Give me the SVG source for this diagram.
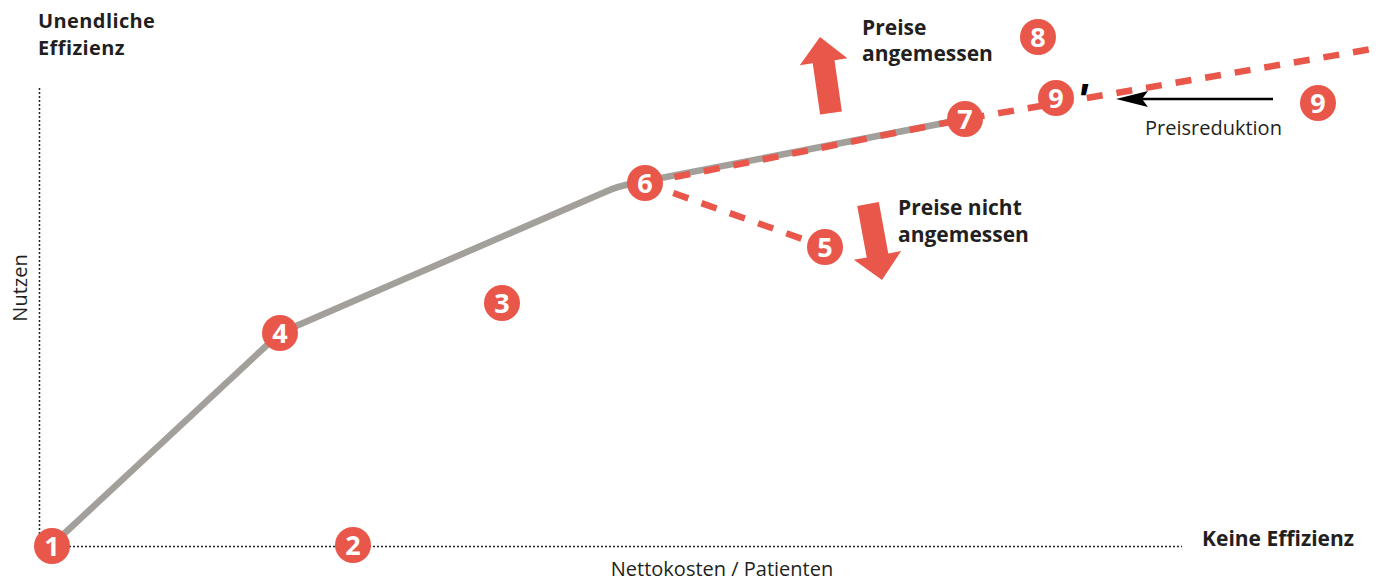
<svg xmlns="http://www.w3.org/2000/svg" width="1380" height="580" viewBox="0 0 1380 580">
<style>
.bold{font-family:"Open Sans","Liberation Sans",sans-serif;font-weight:700;font-size:21px;fill:#231f20}
.reg{font-family:"Open Sans","Liberation Sans",sans-serif;font-weight:400;font-size:20px;fill:#231f20}
.dot{fill:none;stroke:#231f20;stroke-width:1.5;stroke-dasharray:2 2}
.gray{fill:none;stroke:#a39f9b;stroke-width:6.5;stroke-linejoin:round}
.dash{fill:none;stroke:#e9574a;stroke-width:6.5;stroke-dasharray:16 14}
.badge circle{fill:#e9574a}
.badge text{font-family:"Open Sans","Liberation Sans",sans-serif;font-weight:700;font-size:27px;fill:#fff;text-anchor:middle}
.red{fill:#e9574a}
</style>
<rect width="1380" height="580" fill="#fff"/>
<g id="axes">
<line class="dot" x1="39.5" y1="88" x2="39.5" y2="545"/>
<line class="dot" x1="45" y1="546.5" x2="1182" y2="546.5"/>
<text class="bold" x="38" y="28" style="font-size:20px;letter-spacing:0.4px">Unendliche</text>
<text class="bold" x="38" y="55" style="font-size:20px;letter-spacing:0.4px">Effizienz</text>
<text class="bold" x="1354" y="546" text-anchor="end">Keine Effizienz</text>
<text class="reg" x="722" y="576" text-anchor="middle">Nettokosten / Patienten</text>
<text class="reg" transform="translate(27,288) rotate(-90)" text-anchor="middle">Nutzen</text>
</g>
<g id="connectors">
<path class="gray" d="M52,545 L280,333 L605,192 Q618,186 635,183 L965,119"/>
<path class="dash" d="M645,183 L965,119 L1372,49"/>
<path class="dash" d="M645,183 L825,247"/>
<line x1="1273" y1="99" x2="1140" y2="99" stroke="#000" stroke-width="2.5"/>
<polygon points="1116,99 1148,91 1142,99 1148,107" fill="#000"/>
<polygon class="red" points="820.1,114.6 812.7,63.3 799.8,65.2 820,37 847.4,58.3 834.5,60.2 841.9,111.4"/>
<polygon class="red" points="857.2,206 878.8,202 888.3,253.4 901.1,251.1 882,280 853.9,259.7 866.7,257.4"/>
</g>
<g id="labels">
<text class="bold" x="862" y="35">Preise<tspan x="862" y="61">angemessen</tspan></text>
<text class="bold" x="898" y="215">Preise nicht<tspan x="898" y="242">angemessen</tspan></text>
<text class="reg" x="1145" y="135">Preisreduktion</text>
</g>
<g id="n1" class="badge"><circle cx="52" cy="546" r="18"/><text x="52" y="555.5">1</text></g>
<g id="n2" class="badge"><circle cx="353" cy="545" r="18"/><text x="353" y="554.5">2</text></g>
<g id="n3" class="badge"><circle cx="502" cy="303" r="18"/><text x="502" y="312.5">3</text></g>
<g id="n4" class="badge"><circle cx="280" cy="333" r="18"/><text x="280" y="342.5">4</text></g>
<g id="n5" class="badge"><circle cx="825" cy="247" r="18"/><text x="825" y="256.5">5</text></g>
<g id="n6" class="badge"><circle cx="645" cy="183" r="18"/><text x="645" y="192.5">6</text></g>
<g id="n7" class="badge"><circle cx="965" cy="119" r="18"/><text x="965" y="128.5">7</text></g>
<g id="n8" class="badge"><circle cx="1038" cy="37" r="18"/><text x="1038" y="46.5">8</text></g>
<g id="n9prime" class="badge"><circle cx="1056" cy="98" r="18"/><text x="1056" y="107.5">9</text><text x="1082" y="115" style="fill:#000;font-family:'Liberation Sans',sans-serif;font-style:italic;font-size:44px">'</text></g>
<g id="n9" class="badge"><circle cx="1318" cy="103" r="18"/><text x="1318" y="112.5">9</text></g>
</svg>
